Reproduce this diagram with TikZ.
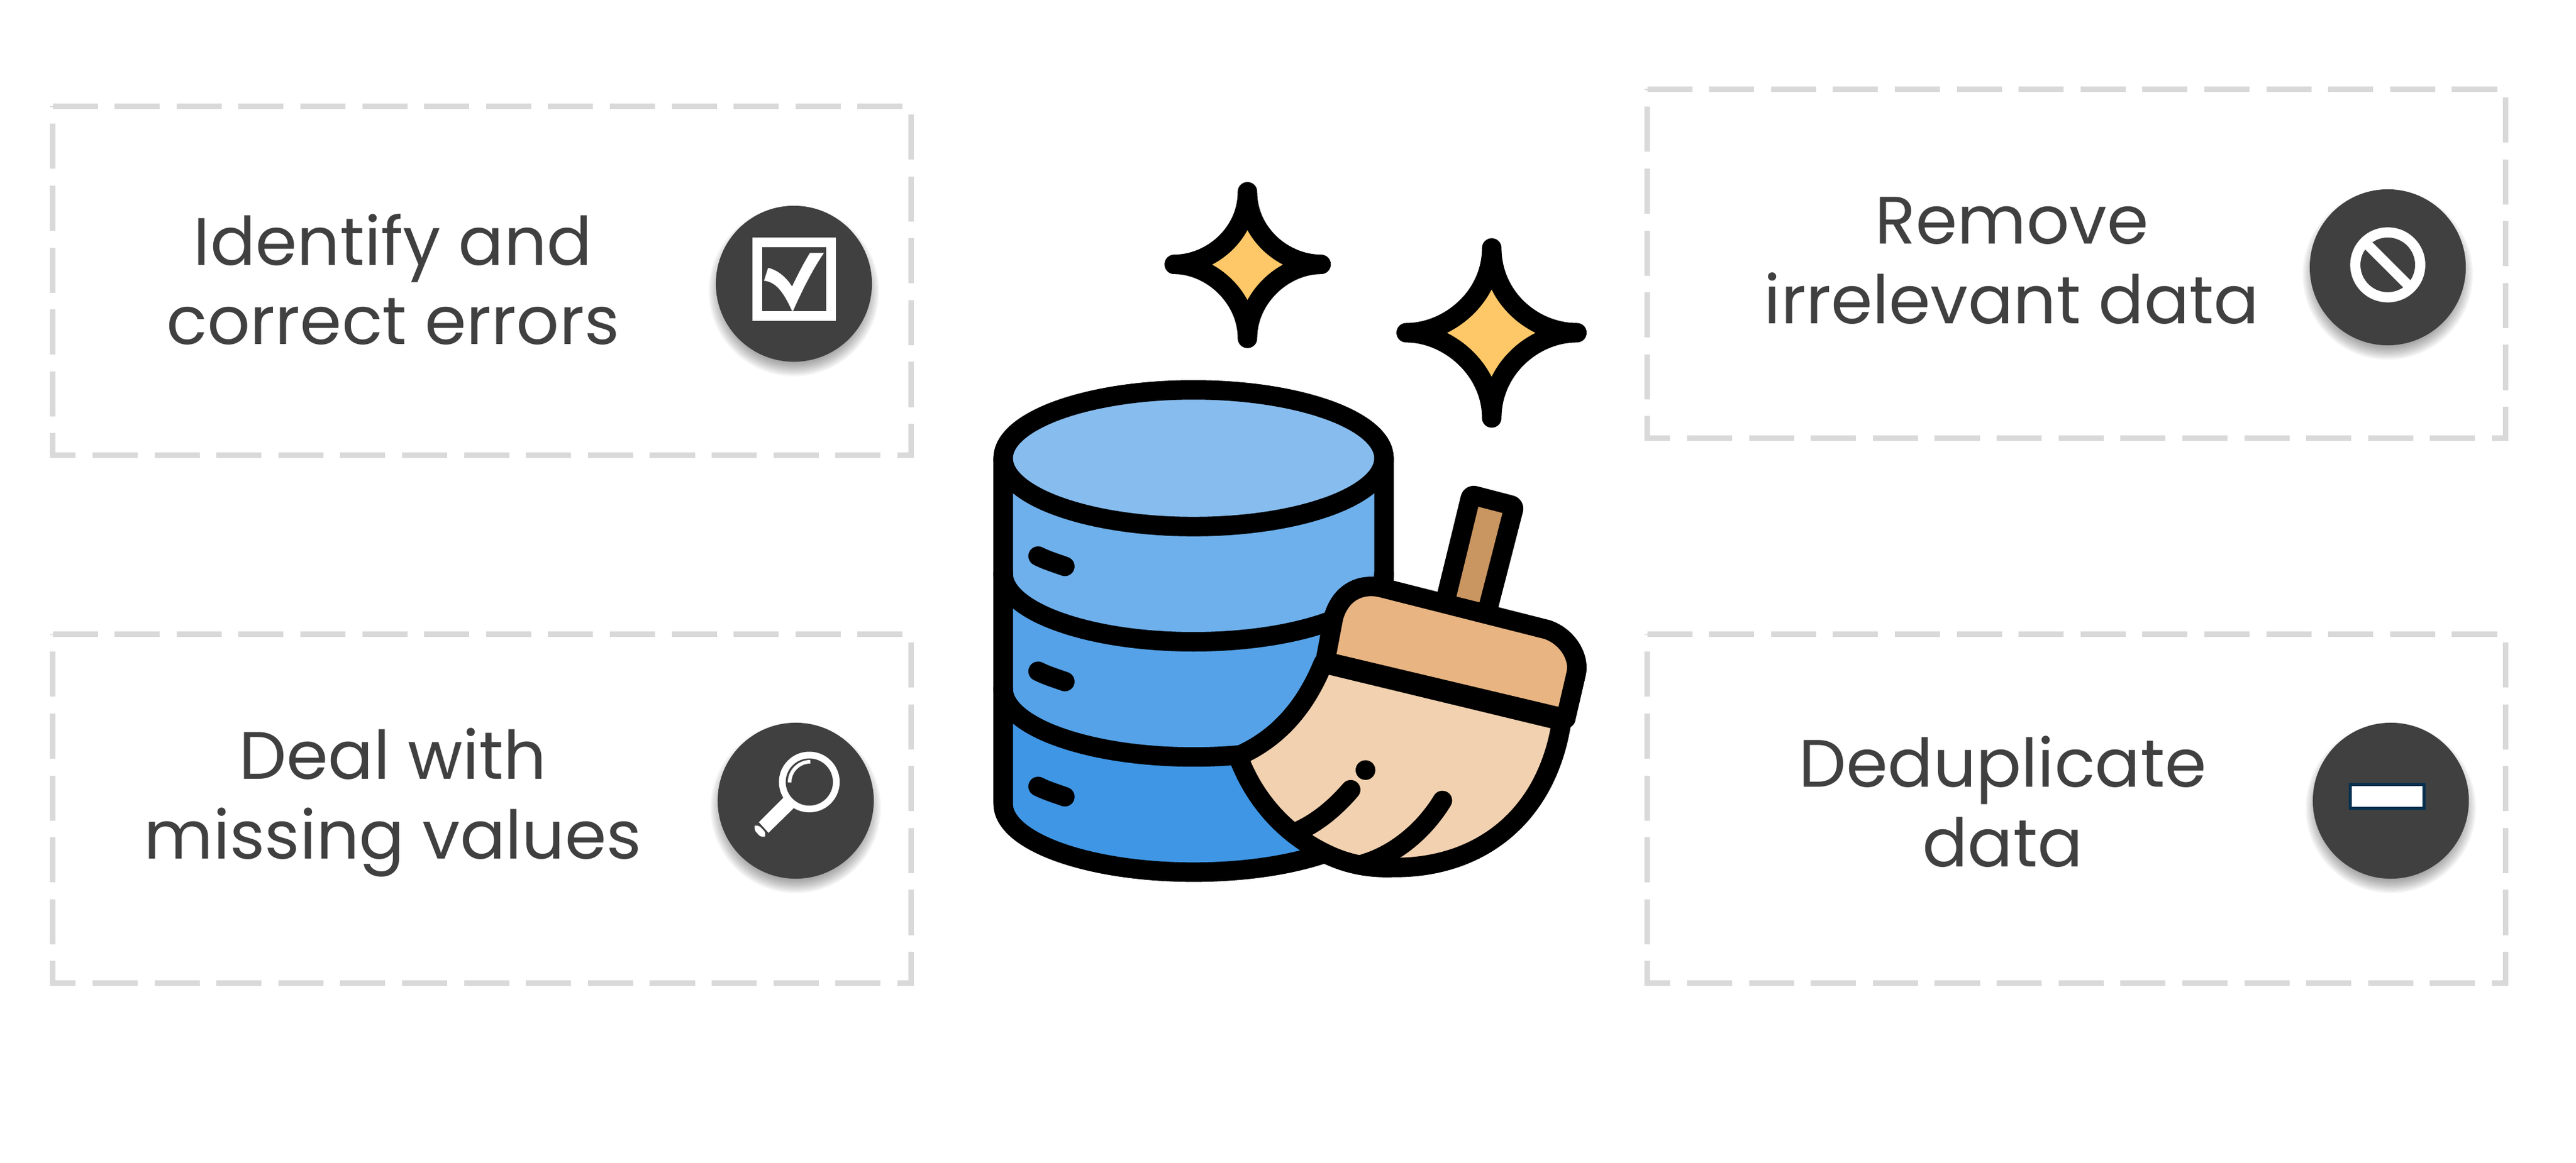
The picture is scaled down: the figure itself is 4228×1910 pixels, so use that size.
\documentclass[tikz,border=0pt]{standalone}
\usepackage{fontspec}
\setmainfont{Poppins}
\definecolor{inkgrey}{HTML}{404040}
\definecolor{boxgrey}{HTML}{D9D9D9}
\definecolor{topblue}{HTML}{87BCEE}
\definecolor{bandone}{HTML}{6EB0EC}
\definecolor{bandtwo}{HTML}{55A2E8}
\definecolor{bandthree}{HTML}{3F96E5}
\definecolor{sparkyellow}{HTML}{FEC868}
\definecolor{stickbrown}{HTML}{C99560}
\definecolor{ferrulepeach}{HTML}{E8B482}
\definecolor{bristlepeach}{HTML}{F2D1B0}
\definecolor{minusblue}{HTML}{03304F}
\tikzset{
    dashbox/.style={draw=boxgrey,line width=0.09cm,dash pattern=on 0.74cm off 0.2755cm,line join=miter},
    boxtext/.style={text=inkgrey,align=center,font=\fontsize{31.3}{37.2}\selectfont},
    iconcircle/.style={circle,fill=inkgrey,minimum size=2.56cm,inner sep=0pt},
    outline/.style={draw=black,line width=0.32cm,line cap=round,line join=round}
}
\begin{document}
\begin{tikzpicture}[x=0.01cm,y=-0.01cm]
    \useasboundingbox (0,0) rectangle (4228,1910);
    % boxes
    \draw[dashbox] (86.5,174.5) -| (1495.5,747.5) -| (86.5,174.5) -- cycle;
    \draw[dashbox] (86.5,1041.5) -| (1495.5,1614.5) -| (86.5,1041.5) -- cycle;
    \draw[dashbox] (2703.5,146.5) -| (4112.5,719.5) -| (2703.5,146.5) -- cycle;
    \draw[dashbox] (2703.5,1041.5) -| (4112.5,1614.5) -| (2703.5,1041.5) -- cycle;
    \node[boxtext] (errors) at (645,459) {Identify and\\correct errors};
    \node[boxtext] (missing) at (645,1318) {Deal with\\missing values};
    \node[boxtext] (irrelevant) at (3302,428) {Remove\\irrelevant data};
    \node[boxtext] (duplicates) at (3287,1317) {Deduplicate\\data};
    % icon shadows
    \foreach \cx/\cy in {1303/466,1306/1315,3919/439,3924/1315}
        \foreach \r in {116,118,...,140}
            \fill[black,opacity=0.035] (\cx,\cy+12) circle (\r);
    \node[iconcircle] (checkicon) at (1303,466) {};
    \node[iconcircle] (lensicon) at (1306,1315) {};
    \node[iconcircle] (banicon) at (3919,439) {};
    \node[iconcircle] (minusicon) at (3924,1315) {};
    % check mark
    \begin{scope}[shift={(1130,300)},scale=0.3333]
        \draw[white,line width=0.16cm] (339,294) rectangle (701,656);
        \fill[white] (372,483) -- (392,420) .. controls (440,430) and (485,470) .. (510,512)
            .. controls (535,460) and (565,400) .. (598,346) -- (667,346)
            .. controls (610,430) and (560,530) .. (515,632) -- (510,632)
            .. controls (470,545) and (435,490) .. (372,483) -- cycle;
    \end{scope}
    % magnifier
    \begin{scope}[shift={(1130,1150)},scale=0.3333]
        \draw[white,line width=0.11cm] (595,403) circle (133);
        \draw[white,line width=0.06cm] (498,405) arc[start angle=180,end angle=270,radius=102];
        \fill[white] (468,480) -- (520,530) -- (392,655) -- (345,603) -- cycle;
        \fill[white,rounded corners=0.08cm] (338,608) -- (316,630) -- (362,682) -- (388,660) -- cycle;
        \draw[inkgrey,line width=0.015cm] (345,603) -- (392,655);
    \end{scope}
    % no entry sign
    \begin{scope}[shift={(3760,280)},scale=0.3333]
        \draw[white,line width=0.167cm] (477,465) circle (160);
        \draw[white,line width=0.167cm] (365,353) -- (589,577);
    \end{scope}
    % minus bar
    \begin{scope}[shift={(3760,1150)},scale=0.3333]
        \draw[draw=minusblue,fill=white,line width=0.05cm] (292,415) rectangle (656,532);
    \end{scope}
    % database and broom
    \begin{scope}[shift={(1581,265)},xscale=0.675,yscale=0.769]
        % sparkles
        \filldraw[outline,fill=sparkyellow] (691,65) .. controls (691,155) and (780,220) .. (870,220)
            .. controls (780,220) and (691,290) .. (691,378) .. controls (691,290) and (602,220) .. (513,220)
            .. controls (602,220) and (691,155) .. (691,65) -- cycle;
        \filldraw[outline,fill=sparkyellow] (1285,185) .. controls (1285,290) and (1385,366) .. (1492,366)
            .. controls (1385,366) and (1285,445) .. (1285,548) .. controls (1285,445) and (1180,366) .. (1077,366)
            .. controls (1180,366) and (1285,290) .. (1285,185) -- cycle;
        % cylinder
        \fill[bandthree] (97,1126) -- (97,1372) arc[start angle=180,end angle=0,x radius=463,y radius=146] -- (1023,1126) -- cycle;
        \fill[bandtwo] (97,880) -- (97,1126) arc[start angle=180,end angle=0,x radius=463,y radius=146] -- (1023,880) -- cycle;
        \fill[bandone] (97,634) -- (97,880) arc[start angle=180,end angle=0,x radius=463,y radius=146] -- (1023,634) -- cycle;
        \draw[outline] (97,880) arc[start angle=180,end angle=0,x radius=463,y radius=146];
        \draw[outline] (97,1126) arc[start angle=180,end angle=0,x radius=463,y radius=146];
        \draw[outline] (1023,634) -- (1023,1372) arc[start angle=0,end angle=180,x radius=463,y radius=146] -- (97,634);
        \filldraw[outline,fill=topblue] (560,634) ellipse[x radius=463,y radius=146];
        \foreach \slot in {0,246,492}
            \draw[outline] (182,843+\slot) .. controls (205,853+\slot) and (225,858+\slot) .. (247,865+\slot);
        % stick
        \filldraw[outline,fill=stickbrown,rounded corners=0.06cm] (1169,950) -- (1235,712) -- (1340,736) -- (1270,975) -- cycle;
        % bristles
        \filldraw[outline,fill=bristlepeach] (875,1072) .. controls (830,1170) and (760,1235) .. (668,1270)
            .. controls (710,1370) and (790,1440) .. (880,1478) .. controls (930,1500) and (985,1510) .. (1045,1508)
            .. controls (1255,1510) and (1420,1400) .. (1455,1195) -- cycle;
        \draw[outline] (942,1342) .. controls (900,1385) and (855,1415) .. (810,1432);
        \draw[outline] (1165,1365) .. controls (1120,1430) and (1050,1480) .. (975,1500);
        \fill (978,1300) ellipse[x radius=24,y radius=21];
        % ferrule
        \filldraw[outline,fill=ferrulepeach] (880,1068) -- (900,975) .. controls (915,925) and (960,900) .. (1015,910)
            -- (1420,1000) .. controls (1470,1015) and (1500,1060) .. (1490,1095) -- (1465,1190) -- cycle;
    \end{scope}
\end{tikzpicture}
\end{document}
